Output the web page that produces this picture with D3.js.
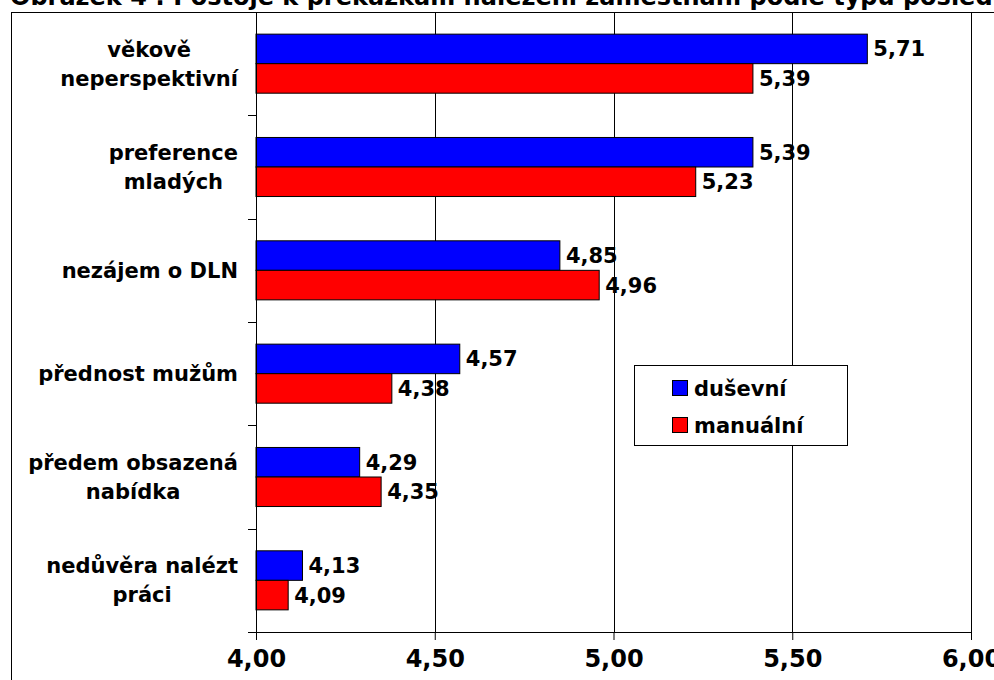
<!DOCTYPE html>
<html><head><meta charset="utf-8">
<script src="https://cdn.jsdelivr.net/npm/d3@7"></script>
<style>body{margin:0;background:#fff}svg{display:block;font-family:"DejaVu Sans",Verdana,sans-serif;font-weight:bold}</style>
</head><body>
<svg id="c" width="994" height="680"></svg>
<script>
const categories = [["věkově","neperspektivní"],["preference","mladých"],["nezájem o DLN"],["přednost mužům"],["předem obsazená","nabídka"],["nedůvěra nalézt","práci"]];
const seriesNames = ["duševní","manuální"];
const dusevni = [5.71,5.39,4.85,4.57,4.29,4.13];
const manualni = [5.39,5.23,4.96,4.38,4.35,4.09];
const xTicks = [4.00,4.50,5.00,5.50,6.00];
const colors = ["#0000ff","#ff0000"];
const title = "Obrázek 4 : Postoje k překážkám nalezení zaměstnání podle typu posledního zaměstnání";

const svg = d3.select("#c");
const fmt = v => d3.format(".2f")(v).replace(".", ",");
const L = 256, R = 971, T = 12, B = 632;
const x = d3.scaleLinear().domain([4,6]).range([L,R]);
const y = d3.scaleBand().domain(d3.range(categories.length)).range([T,B]).paddingInner(0).paddingOuter(0);
const inner = d3.scaleBand().domain([0,1]).range([0,y.bandwidth()]).paddingInner(0).paddingOuter(0.75);

// title (cut off at top)
svg.append("text").attr("x",10).attr("y",5).attr("font-size",24).text(title);

// outer border
svg.append("rect").attr("x",11.5).attr("y",12.5).attr("width",1100).attr("height",800)
  .attr("fill","none").attr("stroke","#000").attr("stroke-width",1);

// gridlines
svg.append("g").selectAll("line").data(xTicks.slice(1)).join("line")
  .attr("x1",d=>Math.round(x(d))+0.5).attr("x2",d=>Math.round(x(d))+0.5)
  .attr("y1",T).attr("y2",B).attr("stroke","#000").attr("stroke-width",1);

// bars
const data = categories.map((c,i)=>({i, vals:[dusevni[i],manualni[i]]}));
const g = svg.append("g");
data.forEach(d=>{
  d.vals.forEach((v,s)=>{
    const y0 = y(d.i)+inner(s);
    g.append("rect").attr("x",x(4)).attr("y",y0).attr("width",x(v)-x(4)).attr("height",inner.bandwidth())
      .attr("fill",colors[s]).attr("stroke","#000").attr("stroke-width",1);
  });
});
data.forEach(d=>{
  d.vals.forEach((v,s)=>{
    const y0 = y(d.i)+inner(s);
    g.append("text").attr("x",x(v)+6).attr("y",y0+inner.bandwidth()/2).attr("dy","0.36em")
      .attr("font-size",21).attr("fill","#000").text(fmt(v));
  });
});

// x axis
const xa = svg.append("g").attr("transform",`translate(0,${B})`)
  .call(d3.axisBottom(x).tickValues(xTicks).tickSize(8).tickPadding(10).tickFormat(fmt));
xa.select(".domain").remove();
xa.append("line").attr("x1",248).attr("x2",R).attr("y1",0.5).attr("y2",0.5).attr("stroke","#000");
xa.selectAll(".tick line").attr("stroke","#000");
xa.selectAll(".tick text").attr("font-size",24).attr("font-family","DejaVu Sans").attr("font-weight","bold").attr("fill","#000");

// y axis
const ya = svg.append("g").attr("transform",`translate(${L},0)`);
ya.append("line").attr("x1",0.5).attr("x2",0.5).attr("y1",T).attr("y2",B+8).attr("stroke","#000");
ya.selectAll("line.t").data(d3.range(1,categories.length)).join("line").attr("class","t")
  .attr("x1",-8).attr("x2",0).attr("y1",d=>Math.round(y(d))+0.5).attr("y2",d=>Math.round(y(d))+0.5).attr("stroke","#000");

// category labels: block right-aligned, lines centered within block
const lh = 29, rightEdge = 238;
categories.forEach((lines,i)=>{
  const cy = y(i)+y.bandwidth()/2;
  const tg = svg.append("g");
  const texts = lines.map((ln,k)=>tg.append("text").attr("font-size",21).attr("text-anchor","middle")
     .attr("y", cy + (k-(lines.length-1)/2)*lh).attr("dy","0.36em").text(ln));
  const w = d3.max(texts, t=>t.node().getComputedTextLength());
  texts.forEach(t=>t.attr("x", rightEdge - w/2));
});

// legend
const lg = svg.append("g");
lg.append("rect").attr("x",634.5).attr("y",365.5).attr("width",213).attr("height",80).attr("fill","#fff").attr("stroke","#000");
seriesNames.forEach((n,s)=>{
  const yy = 388 + s*37;
  lg.append("rect").attr("x",672.5).attr("y",yy-7.5).attr("width",15).attr("height",15).attr("fill",colors[s]).attr("stroke","#000");
  lg.append("text").attr("x",694).attr("y",yy).attr("dy","0.36em").attr("font-size",21).text(n);
});
</script>
</body></html>
